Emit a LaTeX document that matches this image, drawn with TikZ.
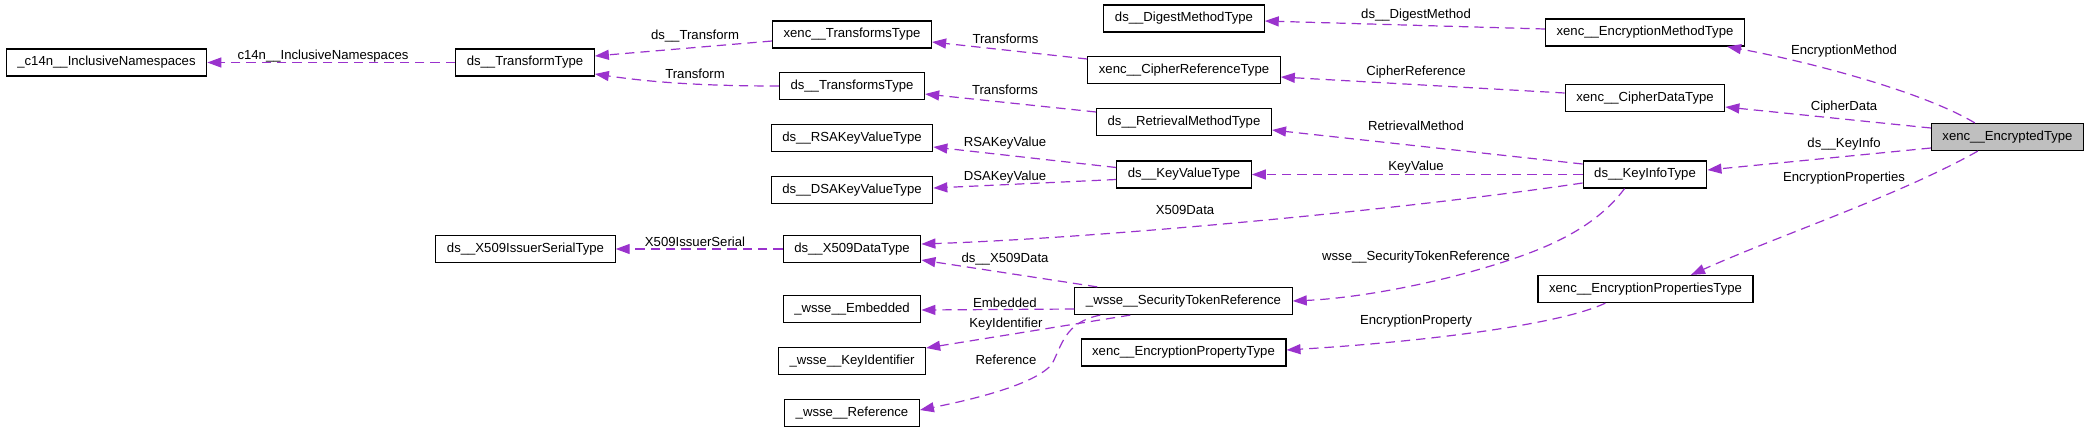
\documentclass[tikz,border=0pt]{standalone}
\usepackage{fontspec}
\setmainfont{Liberation Sans}
\usetikzlibrary{arrows.meta,calc}
\definecolor{depc}{HTML}{9A32CD}
\definecolor{boxgray}{HTML}{BFBFBF}
\begin{document}
\begin{tikzpicture}[x=0.75pt,y=-0.75pt,
  font=\fontsize{9.86pt}{11pt}\selectfont,
  cls/.style={draw=black, line width=0.9pt, minimum height=20.25pt, inner xsep=8.3pt, inner ysep=0pt, fill=white},
  lbl/.style={inner sep=0pt},
  dep/.style={draw=depc, dash pattern=on 7pt off 4.5pt, line width=0.9pt, -{Triangle[length=10.5pt,width=7.5pt,fill=depc]}}]
\fill[white] (0,0) rectangle (2091,433);
\useasboundingbox (0,0) rectangle (2091,433);

% nodes
\node[cls] (c14n) at (106.5,62.5) {\_c14n\_\_InclusiveNamespaces};
\node[cls] (tt) at (525,62.5) {ds\_\_TransformType};
\node[cls] (xtt) at (852,34.5) {xenc\_\_TransformsType};
\node[cls] (dtt) at (852,86) {ds\_\_TransformsType};
\node[cls] (rsa) at (852,138) {ds\_\_RSAKeyValueType};
\node[cls] (dsa) at (852,190) {ds\_\_DSAKeyValueType};
\node[cls] (x509is) at (525.5,249) {ds\_\_X509IssuerSerialType};
\node[cls] (x509) at (852,249) {ds\_\_X509DataType};
\node[cls] (emb) at (852,309) {\_wsse\_\_Embedded};
\node[cls] (kid) at (852,361) {\_wsse\_\_KeyIdentifier};
\node[cls] (ref) at (852,413) {\_wsse\_\_Reference};
\node[cls] (dmt) at (1184,18.5) {ds\_\_DigestMethodType};
\node[cls] (crt) at (1184,70) {xenc\_\_CipherReferenceType};
\node[cls] (rmt) at (1184,122) {ds\_\_RetrievalMethodType};
\node[cls] (kvt) at (1184,174.5) {ds\_\_KeyValueType};
\node[cls] (str) at (1183.5,301) {\_wsse\_\_SecurityTokenReference};
\node[cls] (ept) at (1183.5,352.5) {xenc\_\_EncryptionPropertyType};
\node[cls] (emt) at (1645,32.5) {xenc\_\_EncryptionMethodType};
\node[cls] (cdt) at (1645,98) {xenc\_\_CipherDataType};
\node[cls] (kit) at (1645,174.5) {ds\_\_KeyInfoType};
\node[cls] (epst) at (1645.5,289) {xenc\_\_EncryptionPropertiesType};
\node[cls,fill=boxgray] (et) at (2007.5,137) {xenc\_\_EncryptedType};

% edges
\draw[dep] (tt.west) -- (c14n.east);
\draw[dep] ($(xtt.west)+(0,6.5)$) -- ($(tt.east)+(0,-6.5)$);
\draw[dep] (dtt.west) .. controls (700,86) and (650,82) .. ($(tt.east)+(0,11.5)$);
\draw[dep] ($(emt.west)+(0,-3.5)$) -- ($(dmt.east)+(0,2.5)$);
\draw[dep] ($(crt.west)+(0,-11)$) -- ($(xtt.east)+(0,7.5)$);
\draw[dep] ($(cdt.west)+(0,-5)$) -- ($(crt.east)+(0,7)$);
\draw[dep] ($(rmt.west)+(0,-10)$) -- ($(dtt.east)+(0,8)$);
\draw[dep] ($(kit.west)+(0,-10.5)$) -- ($(rmt.east)+(0,8)$);
\draw[dep] ($(kvt.west)+(0,-7)$) -- ($(rsa.east)+(0,9)$);
\draw[dep] ($(kvt.west)+(0,5)$) -- ($(dsa.east)+(0,-2)$);
\draw[dep] (kit.west) -- (kvt.east);
\draw[dep] ($(kit.west)+(0,8.5)$) .. controls (1400,210) and (1100,238) .. ($(x509.east)+(0,-5)$);
\draw[dep] (x509.west) -- (x509is.east);
\draw[dep] ($(str.north west)+(23,0)$) -- ($(x509.east)+(0,11)$);
\draw[dep] ($(str.west)+(0,8)$) -- ($(emb.east)+(0,1)$);
\draw[dep] ($(str.south west)+(56,0)$) -- ($(kid.east)+(0,-13)$);
\coordinate (refmid) at (1052,364);
\draw[dep] ($(str.south west)+(26,0)$) .. controls (1065,322) and (1062,345) .. (refmid) .. controls (1035,385) and (970,400) .. ($(ref.east)+(0,-3)$);
\coordinate (strmid) at (1470,272);
\draw[dep] ($(kit.south west)+(42,0)$) .. controls (1590,235) and (1530,255) .. (strmid) .. controls (1400,291) and (1340,299) .. (str.east);
\draw[dep] ($(et.north west)+(44,0)$) .. controls (1920,90) and (1800,60) .. ($(emt.south east)+(-18,0)$);
\draw[dep] ($(et.west)+(0,-9)$) -- ($(cdt.east)+(0,9)$);
\draw[dep] ($(et.west)+(0,11)$) -- ($(kit.east)+(0,-4.5)$);
\draw[dep] ($(et.south west)+(47,0)$) .. controls (1900,195) and (1780,235) .. ($(epst.north)+(45.5,0)$);
\draw[dep] ($(epst.south west)+(68,0)$) .. controls (1560,325) and (1420,342) .. ($(ept.east)+(0,-2.5)$);

% labels
\node[lbl] (l1) at (323,56) {c14n\_\_InclusiveNamespaces};
\node[lbl] (l2) at (695,36) {ds\_\_Transform};
\node[lbl] (l3) at (695,74) {Transform};
\node[lbl] (l4) at (1416,15) {ds\_\_DigestMethod};
\node[lbl] (l5) at (1005.5,39) {Transforms};
\node[lbl] (l6) at (1416,72) {CipherReference};
\node[lbl] (l7) at (1005,90) {Transforms};
\node[lbl] (l8) at (1416,126) {RetrievalMethod};
\node[lbl] (l9) at (1005,143) {RSAKeyValue};
\node[lbl] (l10) at (1005,177) {DSAKeyValue};
\node[lbl] (l11) at (1416,167) {KeyValue};
\node[lbl] (l12) at (1185,210) {X509Data};
\node[lbl] (l13) at (695,242) {X509IssuerSerial};
\node[lbl] (l14) at (1005,259) {ds\_\_X509Data};
\node[lbl] (l15) at (1005,303) {Embedded};
\node[lbl] (l16) at (1006,324) {KeyIdentifier};
\node[lbl] (l17) at (1006,360) {Reference};
\node[lbl] (l18) at (1416,257) {wsse\_\_SecurityTokenReference};
\node[lbl] (l19) at (1416,321) {EncryptionProperty};
\node[lbl] (l20) at (1844,51) {EncryptionMethod};
\node[lbl] (l21) at (1844,107) {CipherData};
\node[lbl] (l22) at (1844,144) {ds\_\_KeyInfo};
\node[lbl] (l23) at (1844,178) {EncryptionProperties};
\end{tikzpicture}
\end{document}
